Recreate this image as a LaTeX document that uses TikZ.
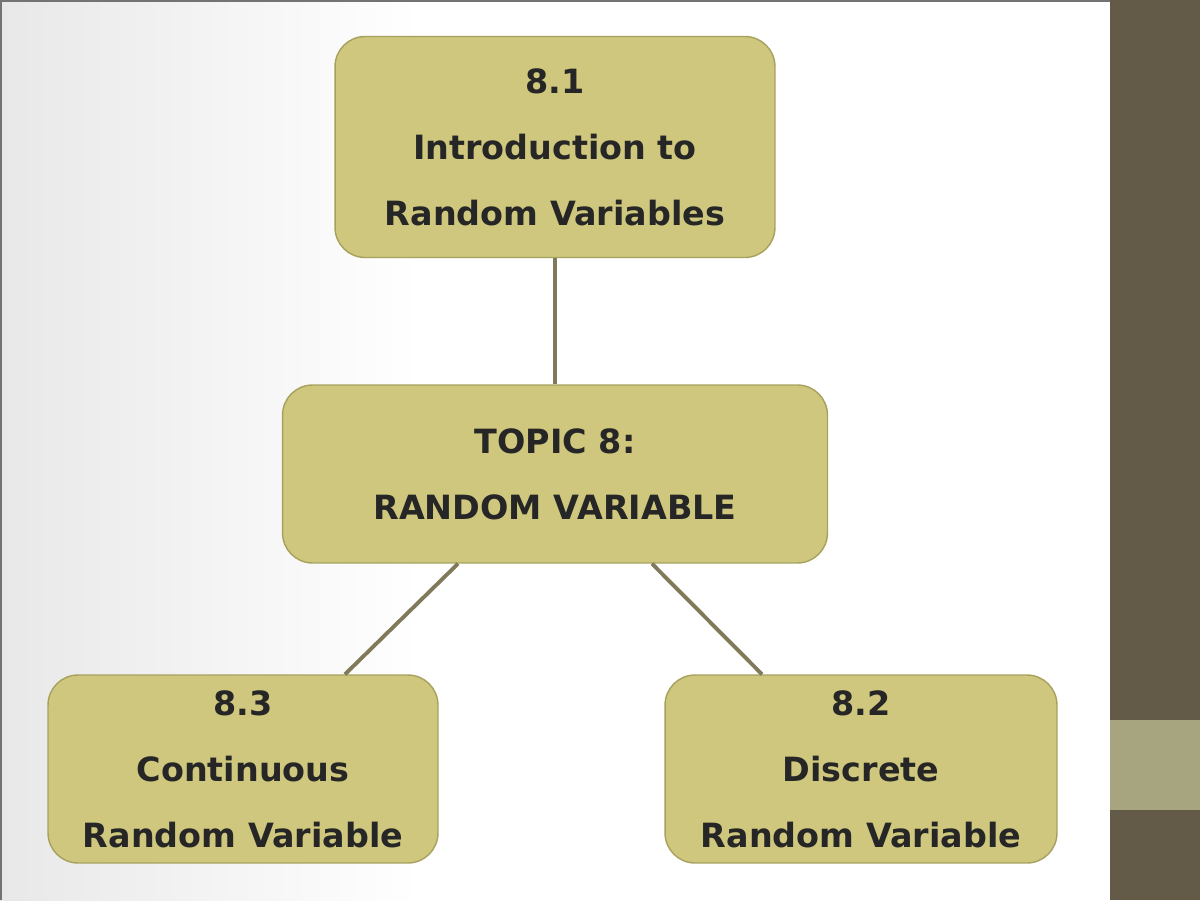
\documentclass[tikz,border=0pt]{standalone}
\usepackage{fontspec}
\setmainfont{DejaVu Sans}
\usetikzlibrary{calc}
\definecolor{boxfill}{RGB}{206,199,125}
\definecolor{boxedge}{RGB}{168,161,94}
\definecolor{linkcol}{RGB}{128,122,90}
\definecolor{stripdark}{RGB}{99,91,71}
\definecolor{stripband}{RGB}{166,165,127}
\begin{document}
\begin{tikzpicture}[x=0.02cm, y=-0.02cm]
        \useasboundingbox (0,0) rectangle (1200,900);
        % slide background
        \fill[white] (0,0) rectangle (1110,900);
        \shade[left color=black!9, right color=white] (0,0) rectangle (420,900);
        \draw[black!55, line width=1pt] (1,900) -- (1,1) -- (1110,1);
        \fill[stripdark] (1110,0) rectangle (1200,900);
        \fill[stripband] (1110,720) rectangle (1200,810);
        \begin{scope}
            \tikzstyle{every node}=[fill=boxfill, draw=boxedge, line width=0.8pt, rounded corners=0.6cm, text=black!85, align=center, font=\fontsize{19}{37.5}\selectfont\bfseries]
            \node[minimum width=8.8cm, minimum height=4.42cm] (intro) at (555,147) {8.1\\Introduction to\\Random Variables};
            \node[minimum width=10.9cm, minimum height=3.56cm] (topic) at (555,474) {TOPIC 8:\\RANDOM VARIABLE};
            \node[minimum width=7.8cm, minimum height=3.76cm] (cont) at (243,769) {8.3\\Continuous\\Random Variable};
            \node[minimum width=7.84cm, minimum height=3.76cm] (disc) at (861,769) {8.2\\Discrete\\Random Variable};
        \end{scope}
        \begin{scope}
            \tikzstyle{every path}=[draw=linkcol, line width=2.2pt]
            \path (intro.south) -- (topic.north);
            \path ([xshift=-1.94cm]topic.south) -- ([xshift=2.04cm]cont.north);
            \path ([xshift=1.94cm]topic.south) -- ([xshift=-1.98cm]disc.north);
        \end{scope}
    \end{tikzpicture}
\end{document}
